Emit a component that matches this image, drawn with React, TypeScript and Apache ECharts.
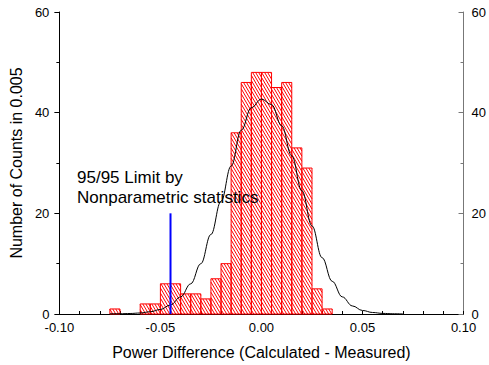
import React, { useEffect, useRef } from "react";
import * as echarts from "echarts";

// Histogram bins (start of each 0.005 bin) and counts
const binStarts = [-0.075, -0.06, -0.055, -0.05, -0.045, -0.04, -0.035, -0.03, -0.025, -0.02, -0.015, -0.01, -0.005, 0, 0.005, 0.01, 0.015, 0.02, 0.025, 0.03];
const binCounts = [1, 2, 2, 6, 6, 4, 4, 3, 7, 10, 36, 46, 48, 48, 45, 46, 33, 29, 5, 1];
const binWidth = 0.005;

// Fitted curve
const fitX = [-0.075, -0.07, -0.065, -0.06, -0.055, -0.05, -0.045, -0.04, -0.035, -0.03, -0.025, -0.02, -0.015, -0.01, -0.005, 0, 0.005, 0.01, 0.015, 0.02, 0.025, 0.03, 0.035, 0.04, 0.045, 0.05, 0.055, 0.06, 0.065, 0.07];
const fitY = [0.02, 0.05, 0.1, 0.2, 0.45, 0.9, 1.8, 3.4, 6.0, 10.0, 15.8, 22.4, 29.4, 36.5, 41.0, 42.7, 41.6, 37.4, 31.4, 24.5, 17.5, 11.2, 6.5, 3.4, 1.6, 0.7, 0.3, 0.12, 0.05, 0.02];

// 95/95 limit
const limitX = -0.045;
const limitTop = 20;

const xTicks = { min: -0.1, max: 0.1, interval: 0.05 };
const yTicks = { min: 0, max: 60, interval: 20 };

const FONT = "'Liberation Sans', Arial, sans-serif";

export default function App() {
  const ref = useRef<HTMLDivElement>(null);
  useEffect(() => {
    if (!ref.current) return;
    const chart = echarts.init(ref.current, null, { renderer: "svg" });
    const histData = binStarts.map((s, i) => [s, s + binWidth, binCounts[i]]);
    const option: any = {
      animation: false,
      textStyle: { fontFamily: FONT },
      grid: { left: 58, right: 22, top: 12, bottom: 51, containLabel: false },
      xAxis: {
        type: "value",
        min: xTicks.min,
        max: xTicks.max,
        interval: xTicks.interval,
        name: "Power Difference (Calculated - Measured)",
        nameLocation: "middle",
        nameGap: 30,
        nameTextStyle: { fontSize: 16, color: "#000", fontFamily: FONT },
        axisLine: { onZero: false, lineStyle: { color: "#000", width: 1 } },
        axisTick: { inside: true, length: 3, lineStyle: { color: "#000" } },
        minorTick: { show: true, splitNumber: 5, length: 3, lineStyle: { color: "#000" } },
        splitLine: { show: false },
        axisLabel: {
          fontSize: 13,
          color: "#000",
          margin: 7,
          fontFamily: FONT,
          formatter: (v: number) => v.toFixed(2),
        },
      },
      yAxis: [
        {
          type: "value",
          position: "left",
          min: yTicks.min,
          max: yTicks.max,
          interval: yTicks.interval,
          name: "Number of Counts in 0.005",
          nameLocation: "middle",
          nameGap: 32,
          nameTextStyle: { fontSize: 16, color: "#000", fontFamily: FONT },
          axisLine: { show: true, onZero: false, lineStyle: { color: "#000", width: 1 } },
          axisTick: { show: true, inside: false, length: 5, lineStyle: { color: "#000" } },
          minorTick: { show: true, splitNumber: 2, length: 3, lineStyle: { color: "#000" } },
          splitLine: { show: false },
          axisLabel: { fontSize: 13, color: "#000", margin: 10, fontFamily: FONT },
        },
        {
          type: "value",
          position: "right",
          min: yTicks.min,
          max: yTicks.max,
          interval: yTicks.interval,
          axisLine: { show: true, onZero: false, lineStyle: { color: "#777", width: 1 } },
          axisTick: { show: true, inside: true, length: 5, lineStyle: { color: "#777" } },
          minorTick: { show: true, splitNumber: 2, length: 3, lineStyle: { color: "#777" } },
          splitLine: { show: false },
          axisLabel: { fontSize: 13, color: "#000", margin: 8, fontFamily: FONT },
        },
      ],
      series: [
        {
          type: "custom",
          name: "hist",
          data: histData,
          encode: { x: [0, 1], y: 2 },
          renderItem: (params: any, api: any) => {
            const x0 = api.value(0);
            const x1 = api.value(1);
            const c = api.value(2);
            const tl = api.coord([x0, c]);
            const br = api.coord([x1, 0]);
            const X = tl[0];
            const Y = tl[1];
            const W = br[0] - tl[0];
            const H = br[1] - tl[1];
            const k = 1.7;
            const d = 3;
            const children: any[] = [];
            const mStart = Math.ceil((X - Y / k - H / k) / d) - 1;
            for (let m = mStart; ; m++) {
              const u = m * d + Y / k - X;
              if (u >= W) break;
              const ya = Math.max(Y, Y - u * k);
              const yb = Math.min(Y + H, Y + (W - u) * k);
              if (yb > ya) {
                children.push({
                  type: "line",
                  shape: {
                    x1: X + u + (ya - Y) / k,
                    y1: ya,
                    x2: X + u + (yb - Y) / k,
                    y2: yb,
                  },
                  style: { stroke: "#ff0000", lineWidth: 1 },
                });
              }
            }
            children.push({
              type: "rect",
              shape: { x: X, y: Y, width: W, height: H },
              style: { fill: "none", stroke: "#ff0000", lineWidth: 1 },
            });
            return { type: "group", children };
          },
          z: 2,
        },
        {
          type: "line",
          name: "fit",
          data: fitX.map((x, i) => [x, fitY[i]]),
          showSymbol: false,
          smooth: 0.4,
          smoothMonotone: "x",
          lineStyle: { color: "#000", width: 1 },
          z: 3,
        },
        {
          type: "line",
          name: "limit",
          data: [
            [limitX, 0],
            [limitX, limitTop],
          ],
          showSymbol: false,
          lineStyle: { color: "#0000ff", width: 2 },
          z: 4,
        },
      ],
      graphic: [
        {
          type: "text",
          left: 77,
          top: 167,
          z: 10,
          style: {
            text: "95/95 Limit by\nNonparametric statistics",
            fontSize: 17,
            lineHeight: 20,
            fontFamily: FONT,
            fill: "#000",
          },
        },
      ],
    };
    chart.setOption(option);
    return () => chart.dispose();
  }, []);
  return (
    <div
      ref={ref}
      style={{ position: "fixed", left: 0, top: 0, width: 489, height: 365, background: "#fff" }}
    />
  );
}
